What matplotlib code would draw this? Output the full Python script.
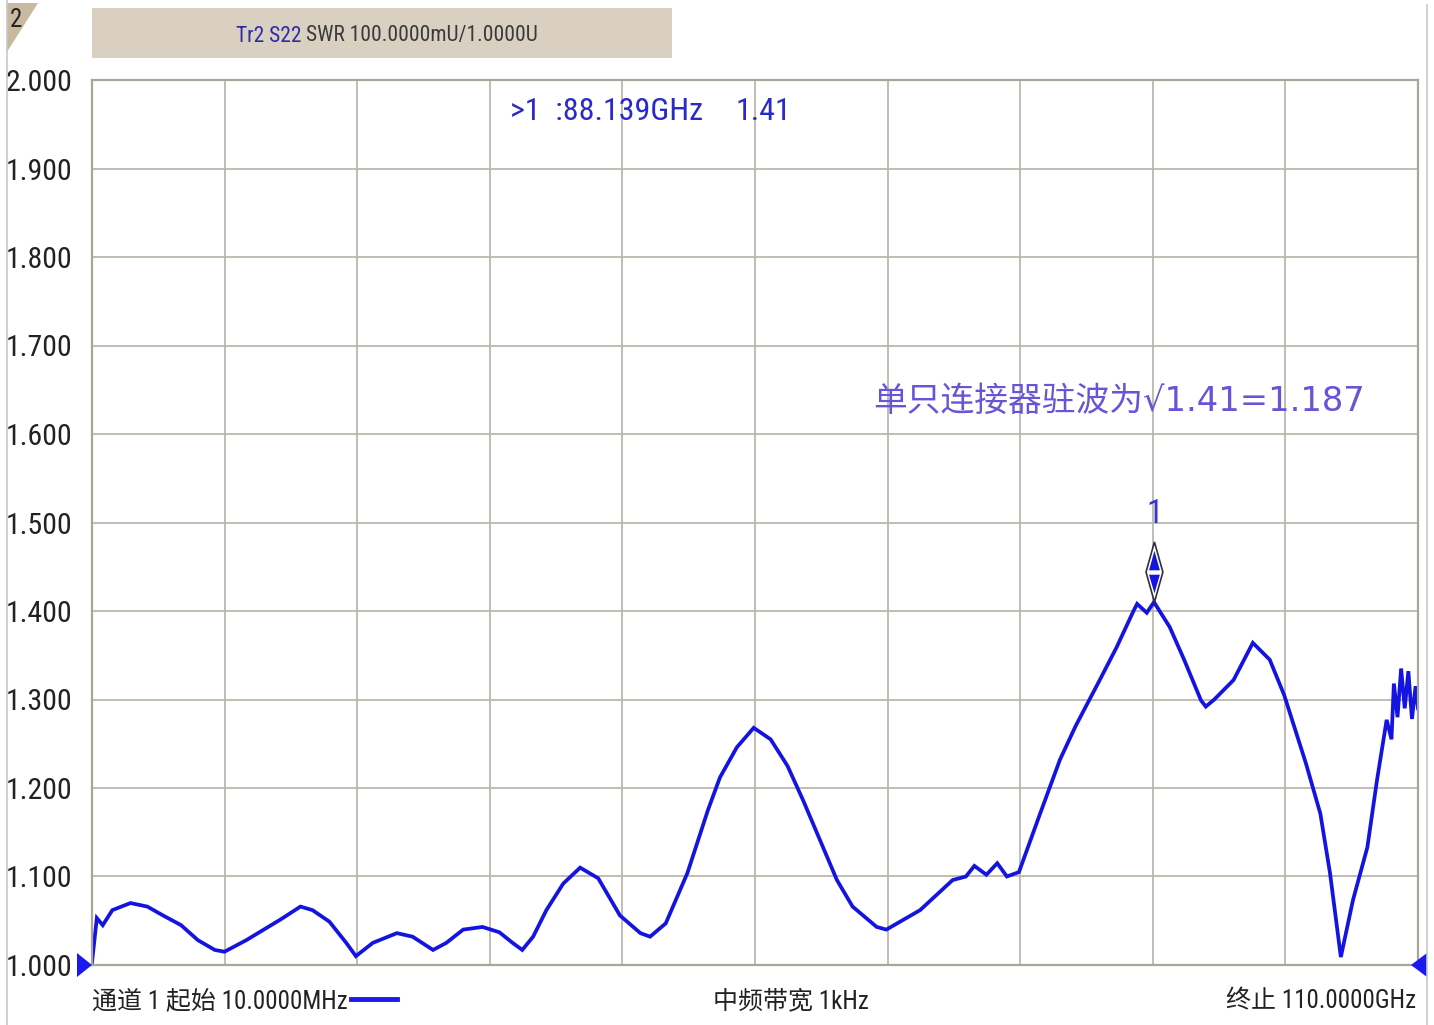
import numpy as np
import matplotlib
matplotlib.use('Agg')
from matplotlib import pyplot as plt
from matplotlib import font_manager
from matplotlib.patches import Polygon, Rectangle
import matplotlib.lines as mlines

# trace values (frequency in GHz, SWR)
freq_ghz = [0.01, 0.41, 0.9, 1.7, 3.2, 4.6, 5.9, 7.4, 8.8, 10.2, 11.0, 12.8,
            15.6, 17.3, 18.3, 19.7, 21.1, 21.9, 23.3, 25.3, 26.6, 28.3, 29.4,
            30.8, 32.4, 33.8, 34.9, 35.7, 36.6, 37.7, 39.1, 40.5, 42.0, 43.8,
            45.5, 46.3, 47.6, 49.4, 51.1, 52.1, 53.5, 54.9, 56.3, 57.7, 59.0,
            60.4, 61.8, 63.1, 65.1, 65.9, 68.7, 71.4, 72.5, 73.2, 74.2, 75.1,
            75.9, 76.9, 78.6, 80.3, 81.6, 83.6, 85.0, 86.4, 86.7, 87.5, 88.1,
            89.4, 90.6, 92.0, 92.4, 93.1, 94.7, 96.3, 97.7, 98.9, 100.7, 101.9,
            102.7, 103.6, 104.6, 105.8, 106.6, 107.4, 107.8, 108.0, 108.3,
            108.6, 108.9, 109.2, 109.5, 109.8, 110.0]
swr = [1.003, 1.053, 1.045, 1.062, 1.070, 1.066, 1.056, 1.045, 1.028, 1.017,
       1.015, 1.028, 1.051, 1.066, 1.062, 1.049, 1.025, 1.010, 1.025, 1.036,
       1.032, 1.017, 1.025, 1.040, 1.043, 1.037, 1.025, 1.017, 1.032, 1.062,
       1.092, 1.110, 1.098, 1.056, 1.036, 1.032, 1.047, 1.104, 1.175, 1.212,
       1.246, 1.268, 1.255, 1.225, 1.186, 1.141, 1.096, 1.066, 1.043, 1.040,
       1.062, 1.096, 1.100, 1.112, 1.102, 1.115, 1.100, 1.105, 1.169, 1.232,
       1.270, 1.322, 1.359, 1.400, 1.408, 1.398, 1.410, 1.382, 1.345, 1.299,
       1.292, 1.300, 1.322, 1.364, 1.345, 1.305, 1.228, 1.171, 1.104, 1.009,
       1.073, 1.133, 1.209, 1.277, 1.255, 1.318, 1.280, 1.335, 1.290, 1.332,
       1.278, 1.315, 1.290]

marker_freq = 88.139
marker_swr = 1.41
start_ghz = 0.01
stop_ghz = 110.0
y_ticks = [1.0, 1.1, 1.2, 1.3, 1.4, 1.5, 1.6, 1.7, 1.8, 1.9, 2.0]

W, H = 1434, 1025
trace_col = '#1414e0'
grid_col = '#bcb7ac'

# the analyser screen uses a narrow font; take the narrowest one available
cands = [('Liberation Sans Narrow', 1.07), ('Arial Narrow', 1.07),
         ('Nimbus Sans Narrow', 1.07), ('Roboto Condensed', 1.0),
         ('DejaVu Sans Condensed', 0.88), ('Liberation Sans', 0.86)]
nfont, k = 'DejaVu Sans', 0.8
for name, scale in cands:
    try:
        font_manager.findfont(font_manager.FontProperties(family=name),
                              fallback_to_default=False)
        nfont, k = name, scale
        break
    except Exception:
        pass
narrow = [nfont, 'DejaVu Sans']
narrow_cjk = [nfont, 'Noto Sans CJK SC', 'DejaVu Sans']


def fx(x):
    return x / W


def fy(y):
    return 1 - y / H


fig = plt.figure(figsize=(W / 100, H / 100), dpi=100)
fig.patch.set_facecolor('white')
renderer = fig.canvas.get_renderer()

ax = fig.add_axes([fx(92), fy(965), (1418 - 92) / W, (965 - 80) / H])
ax.plot(freq_ghz, swr, color=trace_col, lw=2.7, solid_joinstyle='miter')

ax.set_xlim(start_ghz, stop_ghz)
ax.set_ylim(1.0, 2.0)
ax.set_xticks(np.linspace(start_ghz, stop_ghz, 11))
ax.set_xticklabels([])
ax.set_yticks(y_ticks)
ax.set_yticklabels(['%.3f' % v for v in y_ticks], family=narrow,
                   fontsize=21.5 * k, color='#222222')
ax.tick_params(length=0, pad=14)
ax.grid(True, color=grid_col, lw=1.3)
for s in ax.spines.values():
    s.set_color('#a9a59a')
    s.set_linewidth(1.6)

# marker 1
dx = 0.7
ax.add_patch(Polygon([[marker_freq, marker_swr], [marker_freq + dx, 1.444],
                      [marker_freq, 1.478], [marker_freq - dx, 1.444]],
                     closed=True, fc='white', ec='#303040', lw=1.2, zorder=5))
ax.add_patch(Polygon([[marker_freq - 0.45, 1.446], [marker_freq + 0.45, 1.446],
                      [marker_freq, 1.468]], closed=True, fc=trace_col,
                     ec='none', zorder=6))
ax.add_patch(Polygon([[marker_freq - 0.45, 1.441], [marker_freq + 0.45, 1.441],
                      [marker_freq, 1.420]], closed=True, fc=trace_col,
                     ec='none', zorder=6))
ax.text(marker_freq, 1.51, '1', color='#3636d0', fontsize=24 * k,
        family=narrow, ha='center', va='center')

# readout and note
fig.text(fx(510), fy(111), '>1  :%.3fGHz' % marker_freq, color='#2a2ac8',
         fontsize=23 * k, family=narrow, ha='left', va='center')
fig.text(fx(735), fy(111), '%.2f' % marker_swr, color='#2a2ac8',
         fontsize=23 * k, family=narrow, ha='left', va='center')
fig.text(fx(873), fy(401), '单只连接器驻波为√1.41=1.187', color='#6655d6',
         fontsize=24.3, family=['DejaVu Sans', 'Noto Sans CJK SC'],
         ha='left', va='center')

# header bar
fig.patches.append(Rectangle((fx(92), fy(58)), (672 - 92) / W, 50 / H,
                             transform=fig.transFigure, fc='#d9d0c1', ec='none'))
fig.patches.append(Polygon([[fx(7), fy(3)], [fx(38), fy(3)], [fx(7), fy(52)]],
                           closed=True, transform=fig.transFigure,
                           fc='#c9b9a0', ec='none'))
fig.text(fx(16), fy(20), '2', fontsize=18 * k, family=narrow, color='#222222',
         ha='center', va='center')
fig.text(fx(301), fy(36), 'Tr2 S22', fontsize=15.5 * k, family=narrow,
         color='#2b2ba8', ha='right', va='center')
fig.text(fx(306), fy(36), 'SWR 100.0000mU/1.0000U', fontsize=15.5 * k,
         family=narrow, color='#3a3a3a', ha='left', va='center')

# frame lines at the screen edge
fig.add_artist(mlines.Line2D([fx(7), fx(7)], [0, 1], color='#c8c8c8', lw=1.2))
fig.add_artist(mlines.Line2D([fx(1427), fx(1427)], [0, fy(5)], color='#c8c8c8',
                             lw=1.2))

# start / stop arrows
fig.patches.append(Polygon([[fx(77), fy(953)], [fx(92), fy(965)], [fx(77), fy(977)]],
                           closed=True, transform=fig.transFigure, fc='#1a1aee',
                           ec='none'))
fig.patches.append(Polygon([[fx(1427), fy(953)], [fx(1411), fy(965)],
                            [fx(1427), fy(977)]], closed=True,
                           transform=fig.transFigure, fc='#1a1aee', ec='none'))

# footer
t = fig.text(fx(92), fy(1001), '通道 1 起始 10.0000MHz', fontsize=18 * k,
             family=narrow_cjk, color='#222222', ha='left', va='center')
bb = t.get_window_extent(renderer)
fig.add_artist(mlines.Line2D([(bb.x1 + 3) / W, (bb.x1 + 49) / W],
                             [fy(999), fy(999)], color='#1a1aee', lw=3.5))
fig.text(fx(713), fy(1001), '中频带宽 1kHz', fontsize=18 * k, family=narrow_cjk,
         color='#222222', ha='left', va='center')
fig.text(fx(1416), fy(1001), '终止 110.0000GHz', fontsize=18 * k,
         family=narrow_cjk, color='#222222', ha='right', va='center')

fig.savefig('out.png', dpi=100)
